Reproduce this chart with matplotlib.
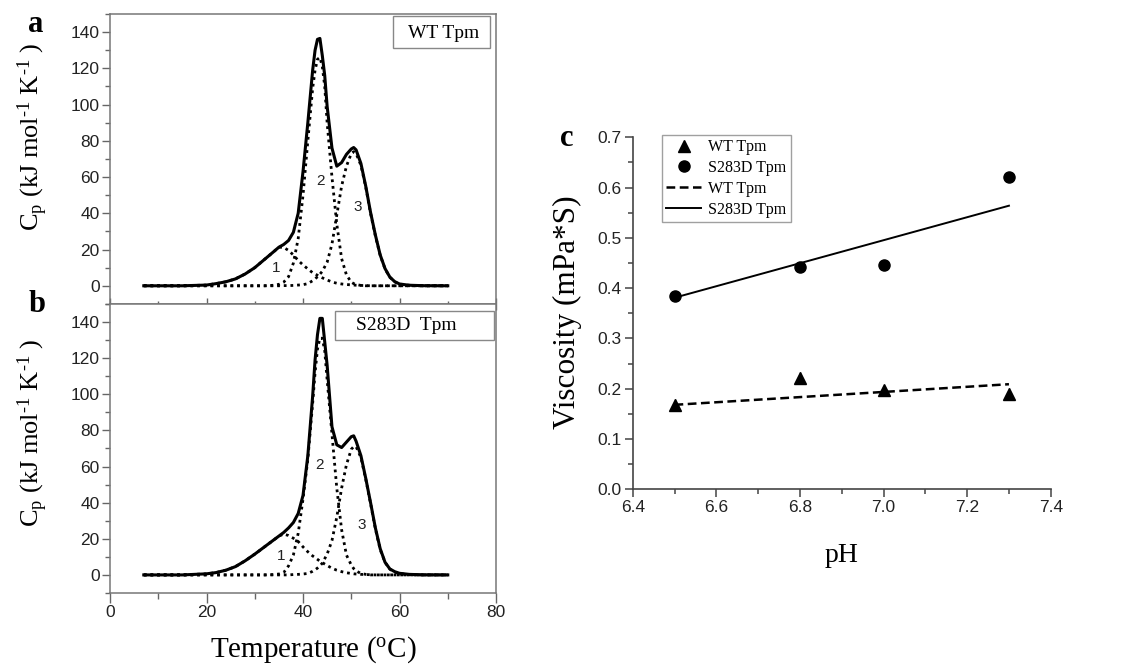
import numpy as np
import matplotlib
matplotlib.use('Agg')
import matplotlib.pyplot as plt
import matplotlib.ticker as ticker
from matplotlib.patches import Rectangle

plt.rcParams['font.family'] = ['Liberation Sans', 'DejaVu Sans']
plt.rcParams['mathtext.fontset'] = 'custom'
plt.rcParams['mathtext.rm'] = 'Liberation Serif'
plt.rcParams['mathtext.it'] = 'Liberation Serif:italic'
plt.rcParams['mathtext.bf'] = 'Liberation Serif:bold'
SERIF = ['Liberation Serif', 'DejaVu Serif']

# ---- DSC data (temperature in C, Cp in kJ/mol/K) ----
temp = [7, 15, 20, 22, 24, 26, 28, 30, 32, 34, 35, 36, 37, 38, 39, 40, 41, 42, 42.5,
        43, 43.5, 44, 44.5, 45, 46, 47, 48, 49, 50, 50.5, 51, 52, 53, 54, 55, 56,
        57, 58, 59, 60, 62, 65, 70]

wt_total = [0, 0, 0.4, 1.2, 2.2, 3.8, 6.5, 10, 14.5, 19, 21.3, 22.8, 25, 29.5, 40, 63, 90, 119, 130,
            136, 136.5, 127, 116, 99, 76, 66, 68, 72.5, 75.5, 76.3, 75, 67.5, 55, 40.5, 28, 17,
            9.5, 4.8, 2.3, 1, 0.3, 0.05, 0]
wt_peak1 = [0, 0, 0.4, 1.2, 2.2, 3.8, 6.5, 10, 14.5, 19, 21.3, 21.2, 19.5, 17, 14, 11.5, 9.3, 7.2, 6.5,
            5.8, 5.1, 4.4, 3.8, 3.2, 2.1, 1.4, 1, 0.7, 0.5, 0.4, 0.3, 0.2, 0.1, 0, 0, 0,
            0, 0, 0, 0, 0, 0, 0]
wt_peak2 = [0, 0, 0, 0, 0, 0, 0, 0, 0, 0.3, 0.8, 2, 5, 12.5, 26, 50, 80, 109, 119,
            125, 126, 121, 110, 90, 60, 34, 15, 6, 2, 1.2, 0.7, 0.2, 0, 0, 0, 0,
            0, 0, 0, 0, 0, 0, 0]
wt_peak3 = [0, 0, 0, 0, 0, 0, 0, 0, 0, 0, 0, 0.1, 0.1, 0.2, 0.4, 0.6, 1.2, 2.8, 3.8,
            5, 6.4, 8, 10.5, 13, 23, 39, 55, 66, 73, 74, 73, 66.5, 54.5, 40, 27.5, 16.8,
            9.3, 4.7, 2.2, 0.9, 0.3, 0, 0]

mut_total = [0, 0, 0.6, 1.3, 2.6, 4.6, 7.8, 11.5, 15.5, 19.5, 21.5, 23.5, 26, 29, 34, 44, 66, 99, 119,
             133, 142, 142, 129, 116, 82, 72, 70.5, 73.5, 76.5, 77, 74, 66, 53.5, 40, 26, 14.5,
             7, 3.3, 1.8, 0.9, 0.3, 0.05, 0]
mut_peak1 = [0, 0, 0.6, 1.3, 2.6, 4.6, 7.8, 11.5, 15.5, 19.5, 21.5, 22.6, 21.8, 20.3, 18.5, 15.5, 12.8, 10.5, 9.6,
             8.6, 7.6, 6.8, 6, 5.2, 3.7, 2.6, 1.8, 1.2, 0.8, 0.6, 0.5, 0.3, 0.2, 0.1, 0, 0,
             0, 0, 0, 0, 0, 0, 0]
mut_peak2 = [0, 0, 0, 0, 0, 0, 0, 0, 0, 0.2, 0.5, 1.3, 5, 11, 23, 42, 64, 95, 112,
             125, 131, 131, 124, 108, 78, 48, 25, 11, 5.5, 3.5, 2.2, 0.8, 0.3, 0, 0, 0,
             0, 0, 0, 0, 0, 0, 0]
mut_peak3 = [0, 0, 0, 0, 0, 0, 0, 0, 0, 0, 0, 0, 0, 0.2, 0.3, 0.5, 0.8, 2, 2.8,
             3.8, 5, 6.5, 9, 11.5, 19, 32, 48, 61, 69.5, 71, 71, 65, 53, 39.5, 25.5, 14,
             7, 3.2, 1.5, 0.7, 0.2, 0, 0]

# peak number labels (temperature, Cp)
wt_label_pos = [(34.4, 9.9), (43.7, 57.9), (51.3, 43.4)]
mut_label_pos = [(35.4, 10.7), (43.4, 61), (52.2, 27.6)]

# ---- viscosity vs pH ----
ph = [6.5, 6.8, 7.0, 7.3]
visc_wt = [0.168, 0.222, 0.197, 0.190]
visc_wt_err = [0.011, 0.011, 0.009, 0.011]
visc_mut = [0.385, 0.443, 0.446, 0.622]
visc_mut_err = [0.005, 0.005, 0.005, 0.008]
fit_ph = [6.5, 7.3]
fit_wt = [0.168, 0.209]
fit_mut = [0.381, 0.564]

fig = plt.figure(figsize=(11.4, 6.65), dpi=100)
ax_a = fig.add_axes([0.0965, 0.543, 0.3386, 0.436])
ax_b = fig.add_axes([0.0965, 0.1083, 0.3386, 0.4347])
ax_c = fig.add_axes([0.555, 0.2642, 0.3667, 0.5293])

dot = (0, (1, 1.4))


def dsc_panel(ax, total, peaks, label_pos, name, box, text_xy):
    ax.plot(temp, total, color='black', lw=2.2, solid_joinstyle='round')
    for p in peaks:
        ax.plot(temp, p, color='black', lw=2.0, linestyle=dot)
    for i, (x, y) in enumerate(label_pos):
        ax.text(x, y, str(i + 1), fontsize=11, ha='center', va='center', color='#222')
    ax.set_xlim(0, 80)
    ax.set_ylim(-10, 150)
    ax.yaxis.set_minor_locator(ticker.MultipleLocator(10))
    ax.set_yticks(range(0, 141, 20))
    ax.xaxis.set_major_locator(ticker.MultipleLocator(20))
    ax.xaxis.set_minor_locator(ticker.MultipleLocator(10))
    ax.tick_params(axis='y', which='major', direction='out', length=6, width=1,
                   color='#666', labelsize=12.5, labelcolor='#222', pad=1.5)
    ax.tick_params(axis='y', which='minor', direction='out', length=3.5, width=1, color='#666')
    for s in ax.spines.values():
        s.set_color('#777')
        s.set_linewidth(1.1)
    ax.add_patch(Rectangle((box[0], box[1]), box[2], box[3], transform=ax.transAxes,
                           fill=False, edgecolor='#888', lw=1.0, zorder=3))
    ax.text(text_xy[0], text_xy[1], name, transform=ax.transAxes, family=SERIF,
            fontsize=14, ha='center', va='center')


dsc_panel(ax_a, wt_total, [wt_peak1, wt_peak2, wt_peak3], wt_label_pos, 'WT Tpm',
          (0.733, 0.883, 0.251, 0.110), (0.864, 0.934))
dsc_panel(ax_b, mut_total, [mut_peak1, mut_peak2, mut_peak3], mut_label_pos, 'S283D  Tpm',
          (0.583, 0.875, 0.412, 0.101), (0.767, 0.927))

ax_a.tick_params(axis='x', which='major', direction='inout', length=8, width=1, color='#666',
                 labelbottom=False)
ax_a.tick_params(axis='x', which='minor', direction='inout', length=5, width=1, color='#666')
ax_b.tick_params(axis='x', which='major', direction='out', length=7, width=1, color='#666',
                 labelsize=12.5, labelcolor='#222', pad=2)
ax_b.tick_params(axis='x', which='minor', direction='out', length=4, width=1, color='#666')

cp_label = 'C$_{\\rm p}$ (kJ mol$^{\\text{-1}}$ K$^{\\text{-1}}$ )'
fig.text(33 / 1140, 1 - 137 / 665, cp_label, rotation=90, ha='center', va='center',
         family=SERIF, fontsize=19)
fig.text(33 / 1140, 1 - 433 / 665, cp_label, rotation=90, ha='center', va='center',
         family=SERIF, fontsize=19)
fig.text(313 / 1140, 1 - 650 / 665, 'Temperature ($^{\\rm o}$C)', ha='center', va='center',
         family=SERIF, fontsize=21)

# ---- panel c ----
ax_c.errorbar(ph, visc_wt, yerr=visc_wt_err, fmt='none', ecolor='black',
              elinewidth=0.9, capsize=0, zorder=2)
ax_c.errorbar(ph, visc_mut, yerr=visc_mut_err, fmt='none', ecolor='black',
              elinewidth=0.9, capsize=0, zorder=2)
h_wt, = ax_c.plot(ph, visc_wt, '^', color='black', ms=8.5, label='WT Tpm', zorder=3)
h_mut, = ax_c.plot(ph, visc_mut, 'o', color='black', ms=8, label='S283D Tpm', zorder=3)
h_wt_fit, = ax_c.plot(fit_ph, fit_wt, color='black', lw=1.8, linestyle=(0, (3.5, 1.8)),
                      label='WT Tpm')
h_mut_fit, = ax_c.plot(fit_ph, fit_mut, color='black', lw=1.4, label='S283D Tpm')
ax_c.set_xlim(6.4, 7.4)
ax_c.set_ylim(0, 0.7)
ax_c.xaxis.set_major_locator(ticker.MultipleLocator(0.2))
ax_c.xaxis.set_minor_locator(ticker.MultipleLocator(0.1))
ax_c.yaxis.set_major_locator(ticker.MultipleLocator(0.1))
ax_c.yaxis.set_minor_locator(ticker.MultipleLocator(0.05))
ax_c.xaxis.set_major_formatter(ticker.FormatStrFormatter('%.1f'))
ax_c.yaxis.set_major_formatter(ticker.FormatStrFormatter('%.1f'))
ax_c.spines['top'].set_visible(False)
ax_c.spines['right'].set_visible(False)
for s in ('left', 'bottom'):
    ax_c.spines[s].set_color('#444')
    ax_c.spines[s].set_linewidth(1.2)
ax_c.tick_params(which='major', direction='out', length=6, width=1.1, color='#444',
                 labelsize=12.5, labelcolor='#222', pad=2)
ax_c.tick_params(which='minor', direction='out', length=3.5, width=1.1, color='#444')

leg = ax_c.legend(handles=[h_wt, h_mut, h_wt_fit, h_mut_fit],
                  loc='upper left', bbox_to_anchor=(0.069, 1.008), borderaxespad=0,
                  prop={'family': SERIF, 'size': 11.5}, frameon=True, fancybox=False,
                  handlelength=2.2, handletextpad=0.4, borderpad=0.3, labelspacing=0.3)
leg.get_frame().set_edgecolor('#888')
leg.get_frame().set_linewidth(1.0)

fig.text(567 / 1140, 1 - 312 / 665, 'Viscosity (mPa*S)', rotation=90, ha='center', va='center',
         family=SERIF, fontsize=22.5)
fig.text(842 / 1140, 1 - 556 / 665, 'pH', ha='center', va='center', family=SERIF, fontsize=20)

for lab, x, y in (('a', 36, 25), ('b', 37, 305), ('c', 567, 138)):
    fig.text(x / 1140, 1 - y / 665, lab, ha='center', va='center', family=SERIF,
             fontsize=22, fontweight='bold')

fig.savefig('out.png', dpi=100, facecolor='white')
